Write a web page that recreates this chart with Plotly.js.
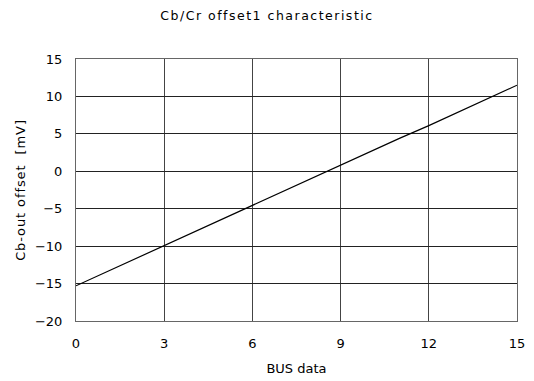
<!DOCTYPE html>
<html>
<head>
<meta charset="utf-8">
<script src="https://cdn.plot.ly/plotly-3.0.1.min.js"></script>
<style>
html,body{margin:0;padding:0;background:#fff;}
#chart{width:534px;height:381px;}
#chart .gtitle{letter-spacing:1.5px;}
#chart .ytitle{letter-spacing:0.9px;}
</style>
</head>
<body>
<div id="chart"></div>
<script>
const busData = [0,1,2,3,4,5,6,7,8,9,10,11,12,13,14,15];
const offsetMv = [-15.3,-13.5,-11.7,-9.9,-8.2,-6.4,-4.6,-2.8,-1.0,0.8,2.6,4.4,6.1,7.9,9.7,11.5];
const xTicks = [0,3,6,9,12,15];
const yTicks = [-20,-15,-10,-5,0,5,10,15];
const titleText = "Cb/Cr offset1 characteristic";
const xTitle = "BUS data";
const yTitle = "Cb-out offset  [mV]";

const font = "'DejaVu Sans', 'Liberation Sans', Arial, sans-serif";
Plotly.newPlot('chart', [{
  x: busData, y: offsetMv, type: 'scatter', mode: 'lines',
  line: {color: '#000', width: 1.2}, hoverinfo: 'skip', showlegend: false
}], {
  width: 534, height: 381,
  margin: {l: 76, r: 17, t: 59, b: 60},
  paper_bgcolor: '#fff', plot_bgcolor: '#fff',
  font: {family: font, size: 13, color: '#000'},
  title: {text: titleText, x: 0.5, xanchor: 'center', y: 0.96, yanchor: 'middle', font: {family: font, size: 12.5, color: '#000'}},
  xaxis: {
    range: [0, 15], tickvals: xTicks, ticktext: xTicks.map(String),
    showgrid: true, gridcolor: '#444', gridwidth: 1,
    zeroline: false, showline: true, linecolor: '#666', linewidth: 1, mirror: true,
    ticks: '', ticklen: 0, tickfont: {size: 13}, ticklabelstandoff: 10,
    title: {text: xTitle, font: {size: 13}, standoff: 14}
  },
  yaxis: {
    range: [-20, 15], tickvals: yTicks, ticktext: yTicks.map(v => v < 0 ? '\u2212' + Math.abs(v) : String(v)),
    showgrid: true, gridcolor: '#222', gridwidth: 1,
    zeroline: false, showline: true, linecolor: '#666', linewidth: 1, mirror: true,
    ticks: '', tickfont: {size: 13}, ticklabelstandoff: 10,
    title: {text: yTitle, font: {size: 13}, standoff: 6}
  }
}, {staticPlot: true, displayModeBar: false});
</script>
</body>
</html>
